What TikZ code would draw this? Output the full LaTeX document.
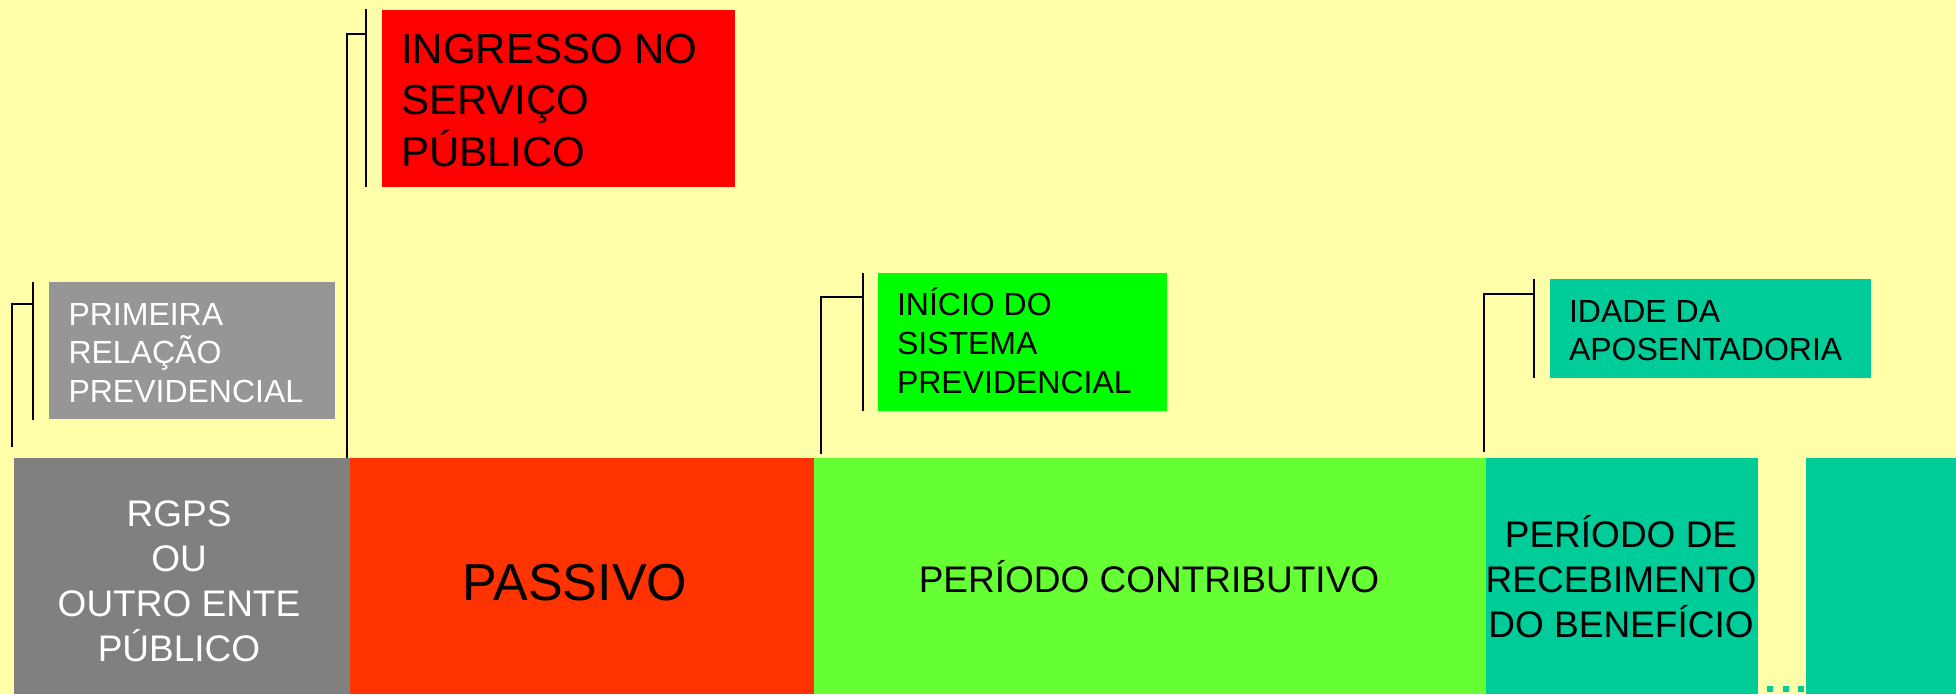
\documentclass[tikz,border=0pt]{standalone}
\usepackage{fontspec}
\setmainfont{Liberation Sans}
\definecolor{bg}{HTML}{FFFFAA}
\definecolor{darkgray}{HTML}{808080}
\definecolor{lightgray}{HTML}{969696}
\definecolor{redbox}{HTML}{FF0000}
\definecolor{orangebar}{HTML}{FF3300}
\definecolor{greenbar}{HTML}{66FF33}
\definecolor{greenbox}{HTML}{00FF00}
\definecolor{tealc}{HTML}{00CC99}
\newcommand\stackL[2]{\vtop{\baselineskip=#1\lineskiplimit=-100pt\halign{##\hfil\cr#2\crcr}}}
\newcommand\stackC[2]{\vtop{\baselineskip=#1\lineskiplimit=-100pt\halign{\hfil##\hfil\cr#2\crcr}}}
\begin{document}
\begin{tikzpicture}[x=1pt,y=-1pt,
  block/.style={draw=none, inner sep=0pt, outer sep=0pt, anchor=north west},
  callbar/.style={line width=2pt, black},
  ltext/.style={inner sep=0pt, outer sep=0pt, anchor=base west},
  ctext/.style={inner sep=0pt, outer sep=0pt, anchor=base},
  dotsq/.style={fill=tealc, inner sep=0pt, minimum size=6pt}]
\useasboundingbox (0,0) rectangle (1956,694);
\fill[bg] (0,0) rectangle (1956,694);

% bottom bars
\node[block, fill=darkgray, minimum width=336pt, minimum height=236pt] (rgps) at (14,458) {};
\node[block, fill=orangebar, minimum width=464pt, minimum height=236pt] (passivo) at (350,458) {};
\node[block, fill=greenbar, minimum width=672pt, minimum height=236pt] (contrib) at (814,458) {};
\node[block, fill=tealc, minimum width=272pt, minimum height=236pt] (receb) at (1486,458) {};
\node[block, fill=tealc, minimum width=150pt, minimum height=236pt] (extra) at (1806,458) {};

\node[dotsq] (d1) at (1770,689) {};
\node[dotsq] (d2) at (1786,689) {};
\node[dotsq] (d3) at (1801,689) {};

% bottom texts
\node[ctext, text=white, font=\fontsize{37}{45}\selectfont] (trgps) at (179,526)
  {\stackC{45pt}{RGPS\cr OU\cr OUTRO ENTE\cr PÚBLICO}};
\node[ctext, font=\fontsize{52}{60}\selectfont] (tpassivo) at (575,600) {PASSIVO};
\node[ctext, font=\fontsize{37}{45}\selectfont] (tcontrib) at (1149,592) {PERÍODO CONTRIBUTIVO};
\node[ctext, font=\fontsize{37}{45}\selectfont] (treceb) at (1621,547)
  {\stackC{45pt}{PERÍODO DE\cr RECEBIMENTO\cr DO BENEFÍCIO}};

% callout boxes
\node[block, fill=lightgray, minimum width=286pt, minimum height=137pt] (gbox) at (49,282) {};
\node[block, fill=redbox, minimum width=353pt, minimum height=177pt] (rbox) at (382,10) {};
\node[block, fill=greenbox, minimum width=289pt, minimum height=138pt] (vbox) at (878,273) {};
\node[block, fill=tealc, minimum width=321pt, minimum height=99pt] (tbox) at (1550,279) {};

% callout texts
\node[ltext, text=white, font=\fontsize{32}{38}\selectfont] (tg) at (68.5,325)
  {\stackL{38.5pt}{PRIMEIRA\cr RELAÇÃO\cr PREVIDENCIAL}};
\node[ltext, font=\fontsize{42}{51}\selectfont] (tr) at (401,63)
  {\stackL{51.5pt}{INGRESSO NO\cr SERVIÇO\cr PÚBLICO}};
\node[ltext, font=\fontsize{32}{39}\selectfont] (tv) at (897,315)
  {\stackL{39pt}{INÍCIO DO\cr SISTEMA\cr PREVIDENCIAL}};
\node[ltext, font=\fontsize{32}{38}\selectfont] (tt) at (1569,322)
  {\stackL{38pt}{IDADE DA\cr APOSENTADORIA}};

% callout accent bars and leaders
\coordinate (ga) at (33,282); \coordinate (gb) at (33,420);
\coordinate (gl) at (33,304); \coordinate (ge) at (12,447);
\draw[callbar] (ga) -- (gb);
\draw[callbar] (gl) -| (ge);

\coordinate (ra) at (366,9); \coordinate (rb) at (366,187);
\coordinate (rl) at (366,34); \coordinate (re) at (347,458);
\draw[callbar] (ra) -- (rb);
\draw[callbar] (rl) -| (re);

\coordinate (va) at (863,273); \coordinate (vb) at (863,411);
\coordinate (vl) at (863,297); \coordinate (ve) at (821,454);
\draw[callbar] (va) -- (vb);
\draw[callbar] (vl) -| (ve);

\coordinate (ta) at (1534,279); \coordinate (tb) at (1534,378);
\coordinate (tl) at (1534,294); \coordinate (te) at (1484,452);
\draw[callbar] (ta) -- (tb);
\draw[callbar] (tl) -| (te);
\end{tikzpicture}
\end{document}
